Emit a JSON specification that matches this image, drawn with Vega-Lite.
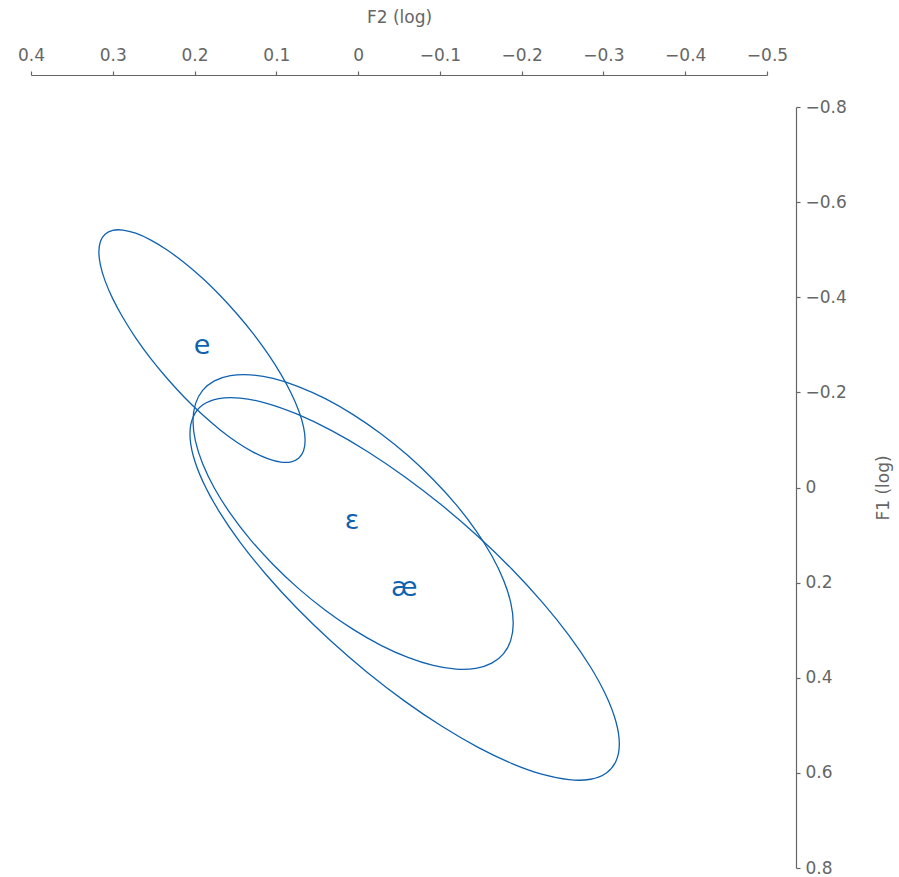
{
  "$schema": "https://vega.github.io/schema/vega-lite/v6.json",
  "autosize": {"type": "none"},
  "width": 736,
  "height": 761,
  "padding": {"left": 31, "top": 107, "right": 132, "bottom": 9},
  "background": "white",
  "config": {
    "view": {"stroke": null},
    "axis": {
      "grid": false,
      "domainColor": "#666666",
      "tickColor": "#666666",
      "labelColor": "#666666",
      "titleColor": "#666666",
      "labelFont": "DejaVu Sans",
      "titleFont": "DejaVu Sans",
      "labelFontSize": 17,
      "titleFontSize": 17,
      "titleFontWeight": "normal",
      "tickSize": 4,
      "domainWidth": 1.2,
      "tickWidth": 1.2,
      "labelFlush": false,
      "labelOverlap": false
    }
  },
  "datasets": {
    "ell": [
      {"v":"e","t":0,"F2":0.3170,"F1":-0.4955},{"v":"e","t":10,"F2":0.3151,"F1":-0.4676},{"v":"e","t":20,"F2":0.3094,"F1":-0.4344},{"v":"e","t":30,"F2":0.3001,"F1":-0.3971},{"v":"e","t":40,"F2":0.2875,"F1":-0.3569},{"v":"e","t":50,"F2":0.2720,"F1":-0.3148},{"v":"e","t":60,"F2":0.2540,"F1":-0.2721},{"v":"e","t":70,"F2":0.2340,"F1":-0.2303},{"v":"e","t":80,"F2":0.2128,"F1":-0.1904},{"v":"e","t":90,"F2":0.1909,"F1":-0.1538},{"v":"e","t":100,"F2":0.1690,"F1":-0.1216},{"v":"e","t":110,"F2":0.1478,"F1":-0.0947},{"v":"e","t":120,"F2":0.1278,"F1":-0.0739},{"v":"e","t":130,"F2":0.1098,"F1":-0.0600},{"v":"e","t":140,"F2":0.0943,"F1":-0.0533},{"v":"e","t":150,"F2":0.0817,"F1":-0.0539},{"v":"e","t":160,"F2":0.0724,"F1":-0.0620},{"v":"e","t":170,"F2":0.0667,"F1":-0.0772},{"v":"e","t":180,"F2":0.0648,"F1":-0.0991},{"v":"e","t":190,"F2":0.0667,"F1":-0.1270},{"v":"e","t":200,"F2":0.0724,"F1":-0.1602},{"v":"e","t":210,"F2":0.0817,"F1":-0.1975},{"v":"e","t":220,"F2":0.0943,"F1":-0.2377},{"v":"e","t":230,"F2":0.1098,"F1":-0.2798},{"v":"e","t":240,"F2":0.1278,"F1":-0.3225},{"v":"e","t":250,"F2":0.1478,"F1":-0.3643},{"v":"e","t":260,"F2":0.1690,"F1":-0.4042},{"v":"e","t":270,"F2":0.1909,"F1":-0.4408},{"v":"e","t":280,"F2":0.2128,"F1":-0.4730},{"v":"e","t":290,"F2":0.2340,"F1":-0.4999},{"v":"e","t":300,"F2":0.2540,"F1":-0.5207},{"v":"e","t":310,"F2":0.2720,"F1":-0.5346},{"v":"e","t":320,"F2":0.2875,"F1":-0.5413},{"v":"e","t":330,"F2":0.3001,"F1":-0.5407},{"v":"e","t":340,"F2":0.3094,"F1":-0.5326},{"v":"e","t":350,"F2":0.3151,"F1":-0.5174},
      {"v":"ɛ","t":0,"F2":0.2019,"F1":-0.1398},{"v":"ɛ","t":10,"F2":0.1989,"F1":-0.0974},{"v":"ɛ","t":20,"F2":0.1901,"F1":-0.0498},{"v":"ɛ","t":30,"F2":0.1757,"F1":0.0015},{"v":"ɛ","t":40,"F2":0.1561,"F1":0.0550},{"v":"ɛ","t":50,"F2":0.1320,"F1":0.1090},{"v":"ɛ","t":60,"F2":0.1040,"F1":0.1618},{"v":"ɛ","t":70,"F2":0.0731,"F1":0.2121},{"v":"ɛ","t":80,"F2":0.0401,"F1":0.2580},{"v":"ɛ","t":90,"F2":0.0061,"F1":0.2983},{"v":"ɛ","t":100,"F2":-0.0279,"F1":0.3318},{"v":"ɛ","t":110,"F2":-0.0609,"F1":0.3573},{"v":"ɛ","t":120,"F2":-0.0918,"F1":0.3742},{"v":"ɛ","t":130,"F2":-0.1198,"F1":0.3820},{"v":"ɛ","t":140,"F2":-0.1439,"F1":0.3802},{"v":"ɛ","t":150,"F2":-0.1635,"F1":0.3693},{"v":"ɛ","t":160,"F2":-0.1779,"F1":0.3492},{"v":"ɛ","t":170,"F2":-0.1867,"F1":0.3208},{"v":"ɛ","t":180,"F2":-0.1897,"F1":0.2848},{"v":"ɛ","t":190,"F2":-0.1867,"F1":0.2424},{"v":"ɛ","t":200,"F2":-0.1779,"F1":0.1948},{"v":"ɛ","t":210,"F2":-0.1635,"F1":0.1435},{"v":"ɛ","t":220,"F2":-0.1439,"F1":0.0900},{"v":"ɛ","t":230,"F2":-0.1198,"F1":0.0360},{"v":"ɛ","t":240,"F2":-0.0918,"F1":-0.0168},{"v":"ɛ","t":250,"F2":-0.0609,"F1":-0.0671},{"v":"ɛ","t":260,"F2":-0.0279,"F1":-0.1130},{"v":"ɛ","t":270,"F2":0.0061,"F1":-0.1533},{"v":"ɛ","t":280,"F2":0.0401,"F1":-0.1868},{"v":"ɛ","t":290,"F2":0.0731,"F1":-0.2123},{"v":"ɛ","t":300,"F2":0.1040,"F1":-0.2292},{"v":"ɛ","t":310,"F2":0.1320,"F1":-0.2370},{"v":"ɛ","t":320,"F2":0.1561,"F1":-0.2352},{"v":"ɛ","t":330,"F2":0.1757,"F1":-0.2243},{"v":"ɛ","t":340,"F2":0.1901,"F1":-0.2042},{"v":"ɛ","t":350,"F2":0.1989,"F1":-0.1758},
      {"v":"æ","t":0,"F2":0.2056,"F1":-0.1127},{"v":"æ","t":10,"F2":0.2016,"F1":-0.0667},{"v":"æ","t":20,"F2":0.1898,"F1":-0.0124},{"v":"æ","t":30,"F2":0.1704,"F1":0.0490},{"v":"æ","t":40,"F2":0.1442,"F1":0.1152},{"v":"æ","t":50,"F2":0.1118,"F1":0.1844},{"v":"æ","t":60,"F2":0.0744,"F1":0.2545},{"v":"æ","t":70,"F2":0.0329,"F1":0.3234},{"v":"æ","t":80,"F2":-0.0113,"F1":0.3889},{"v":"æ","t":90,"F2":-0.0569,"F1":0.4491},{"v":"æ","t":100,"F2":-0.1025,"F1":0.5021},{"v":"æ","t":110,"F2":-0.1467,"F1":0.5464},{"v":"æ","t":120,"F2":-0.1882,"F1":0.5805},{"v":"æ","t":130,"F2":-0.2256,"F1":0.6034},{"v":"æ","t":140,"F2":-0.2580,"F1":0.6144},{"v":"æ","t":150,"F2":-0.2842,"F1":0.6134},{"v":"æ","t":160,"F2":-0.3036,"F1":0.6002},{"v":"æ","t":170,"F2":-0.3154,"F1":0.5751},{"v":"æ","t":180,"F2":-0.3194,"F1":0.5391},{"v":"æ","t":190,"F2":-0.3154,"F1":0.4931},{"v":"æ","t":200,"F2":-0.3036,"F1":0.4388},{"v":"æ","t":210,"F2":-0.2842,"F1":0.3774},{"v":"æ","t":220,"F2":-0.2580,"F1":0.3112},{"v":"æ","t":230,"F2":-0.2256,"F1":0.2420},{"v":"æ","t":240,"F2":-0.1882,"F1":0.1719},{"v":"æ","t":250,"F2":-0.1467,"F1":0.1030},{"v":"æ","t":260,"F2":-0.1025,"F1":0.0375},{"v":"æ","t":270,"F2":-0.0569,"F1":-0.0227},{"v":"æ","t":280,"F2":-0.0113,"F1":-0.0757},{"v":"æ","t":290,"F2":0.0329,"F1":-0.1200},{"v":"æ","t":300,"F2":0.0744,"F1":-0.1541},{"v":"æ","t":310,"F2":0.1118,"F1":-0.1770},{"v":"æ","t":320,"F2":0.1442,"F1":-0.1880},{"v":"æ","t":330,"F2":0.1704,"F1":-0.1870},{"v":"æ","t":340,"F2":0.1898,"F1":-0.1738},{"v":"æ","t":350,"F2":0.2016,"F1":-0.1487}
    ],
    "lab": [
      {"v":"e","F2":0.1909,"F1":-0.2973},
      {"v":"ɛ","F2":0.0073,"F1":0.0714},
      {"v":"æ","F2":-0.0563,"F1":0.2122}
    ]
  },
  "layer": [
    {
      "data": {"name": "ell"},
      "mark": {"type": "line", "interpolate": "cardinal-closed", "stroke": "#0f62b0", "strokeWidth": 1.3},
      "encoding": {
        "x": {
          "field": "F2", "type": "quantitative",
          "scale": {"domain": [-0.5, 0.4], "reverse": true, "nice": false, "zero": false},
          "axis": {"orient": "top", "offset": 32, "title": "F2 (log)", "values": [0.4,0.3,0.2,0.1,0,-0.1,-0.2,-0.3,-0.4,-0.5], "format": "~g", "labelPadding": 7, "titlePadding": 20}
        },
        "y": {
          "field": "F1", "type": "quantitative",
          "scale": {"domain": [-0.8, 0.8], "reverse": true, "nice": false, "zero": false},
          "axis": {"orient": "right", "offset": 29, "title": "F1 (log)", "values": [-0.8,-0.6,-0.4,-0.2,0,0.2,0.4,0.6,0.8], "format": "~g", "titleAngle": 270, "labelPadding": 5, "titlePadding": 46}
        },
        "detail": {"field": "v"},
        "order": {"field": "t", "type": "quantitative"}
      }
    },
    {
      "data": {"name": "lab"},
      "mark": {"type": "text", "font": "DejaVu Sans", "fontSize": 27, "fill": "#0f62b0", "align": "center", "baseline": "middle"},
      "encoding": {
        "x": {"field": "F2", "type": "quantitative"},
        "y": {"field": "F1", "type": "quantitative"},
        "text": {"field": "v"}
      }
    }
  ]
}
